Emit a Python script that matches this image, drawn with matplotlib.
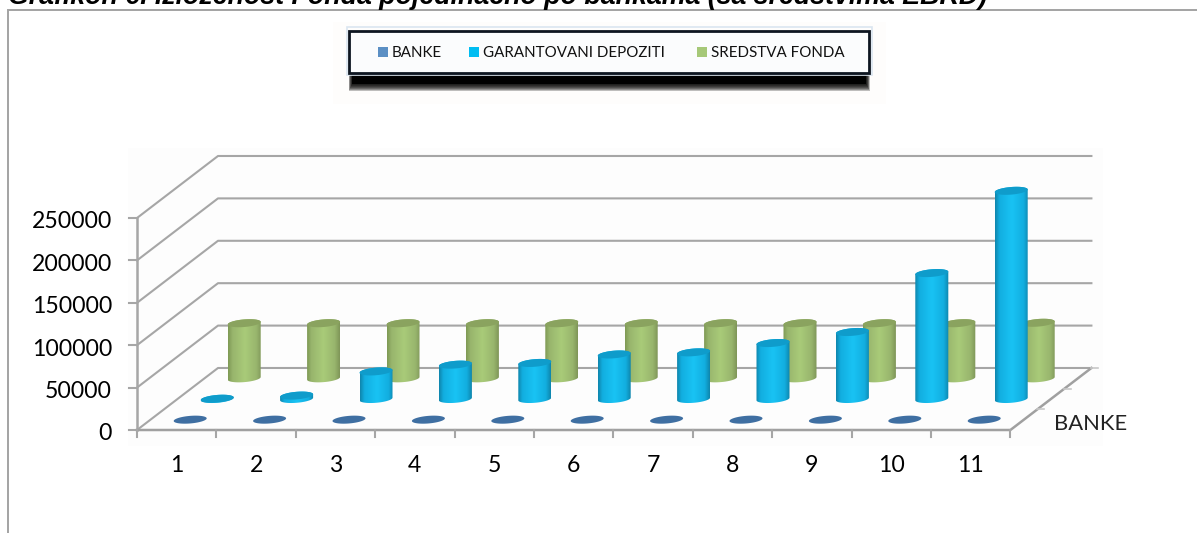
import numpy as np
import matplotlib
matplotlib.use("Agg")
import matplotlib.pyplot as plt
from matplotlib.colors import LinearSegmentedColormap
from matplotlib.patches import Polygon, Rectangle

categories = [1, 2, 3, 4, 5, 6, 7, 8, 9, 10, 11]
banke = [0, 0, 0, 0, 0, 0, 0, 0, 0, 0, 0]
garantovani = [300, 4000, 32500, 40500, 42500, 52500, 55000, 66000, 79000, 148500, 245500]
sredstva = [65000, 65000, 65000, 65000, 65000, 65000, 65000, 65000, 65000, 65000, 65500]
value_ticks = [0, 50000, 100000, 150000, 200000, 250000]
legend_labels = ["BANKE", "GARANTOVANI DEPOZITI", "SREDSTVA FONDA"]

W, H = 1197, 533
CAT_PX = 79.4
VAL_PX = 212 / 250000
DEPTH_DX = 27.0 / CAT_PX
DEPTH_DY = 20.67 / VAL_PX
FONT = "Lato"


def cmap_for(edge_l, mid, bright, edge_r):
    return LinearSegmentedColormap.from_list(
        "c", [(0, edge_l), (0.13, mid), (0.5, bright), (0.85, mid), (1, edge_r)])


def ell_points(cx, cy, t):
    # slightly tilted ellipse, half axes in pixels turned into data units
    a, b, slope = 16.5, 3.8, 0.08
    px = a * np.cos(t)
    py = b * np.sin(t) + slope * a * np.cos(t)
    return cx + px / CAT_PX, cy + py / VAL_PX


def cylinder(ax, cat, value, depth, cmap, top_color, z):
    cx = cat + depth * DEPTH_DX
    y0 = depth * DEPTH_DY
    y1 = y0 + value
    if value > 0:
        x_low, y_low = ell_points(cx, y0, np.linspace(np.pi, 2 * np.pi, 40))
        x_up, y_up = ell_points(cx, y1, np.linspace(0, np.pi, 40))
        pts = np.column_stack([np.r_[x_low, x_up], np.r_[y_low, y_up]])
        body = Polygon(pts, closed=True, facecolor="none", edgecolor="none", transform=ax.transData)
        ax.add_patch(body)
        half = 16.5 / CAT_PX
        im = ax.imshow(np.linspace(0, 1, 64).reshape(1, -1), cmap=cmap, aspect="auto",
                       extent=[cx - half, cx + half, y0 - 12 / VAL_PX, y1 + 6 / VAL_PX],
                       zorder=z, interpolation="bilinear")
        im.set_clip_path(body)
    tx, ty = ell_points(cx, y1, np.linspace(0, 2 * np.pi, 80))
    ax.fill(tx, ty, color=top_color, zorder=z + 0.1, lw=0)


fig = plt.figure(figsize=(W / 100, H / 100), dpi=100)

# page furniture in pixel coordinates
bg = fig.add_axes([0, 0, 1, 1])
bg.set_xlim(0, W)
bg.set_ylim(H, 0)
bg.axis("off")
bg.add_patch(Rectangle((128, 148), 975, 298, color="#fdfdfd", lw=0))
bg.plot([8, 8, W], [H, 9.5, 9.5], color="#a3a3a3", lw=1.4, solid_joinstyle="miter")
bg.text(8, 4, "Grafikon 6. Izloženost Fonda pojedinačno po bankama (sa sredstvima EBRD)",
        family="Liberation Sans", weight="bold", style="italic", fontsize=19.3,
        va="baseline", ha="left", color="black")

# legend box with its heavy shadow
bg.add_patch(Rectangle((333, 22), 553, 82, color="#fefdfc", lw=0))
for grow in range(7, 0, -1):
    bg.add_patch(Rectangle((352 - grow * 0.5, 73), 514 + grow, 11 + grow,
                           color="black", alpha=0.25, lw=0))
bg.add_patch(Rectangle((352, 73), 514, 11, color="black", lw=0))
bg.add_patch(Rectangle((346.5, 27), 525, 48, fill=False, edgecolor="#dbe6f0", lw=1.2, zorder=2))
bg.add_patch(Rectangle((349, 30.5), 520, 42, facecolor="#fbfcfd", edgecolor="#0d1520", lw=2, zorder=3))
swatch_x = [378, 469, 697]
text_x = [392, 483, 711]
swatch_c = ["#5b8fc4", "#00bdf2", "#a6c878"]
for sx, tx, col, lab in zip(swatch_x, text_x, swatch_c, legend_labels):
    bg.add_patch(Rectangle((sx, 47), 10, 10, color=col, lw=0, zorder=4))
    bg.text(tx, 53, lab, family=FONT, fontsize=10.9, va="center", ha="left", color="#111111", zorder=4)

# chart axes, same area as the figure, in category / value units
ax = fig.add_axes([0, 0, 1, 1])
ax.patch.set_alpha(0)
ax.axis("off")
grid_c = "#a6a6a6"
back_x = [0.5 + 3 * DEPTH_DX, 11.5 + 3 * DEPTH_DX]
for v in value_ticks:
    ax.plot([0.5, 0.5 + 3 * DEPTH_DX, back_x[1]],
            [v, v + 3 * DEPTH_DY, v + 3 * DEPTH_DY], color=grid_c, lw=1.5, zorder=1)
    ax.plot([0.5 - 8 / CAT_PX, 0.5], [v, v], color=grid_c, lw=1.5, zorder=1)
    ax.text(0.5 - 25 / CAT_PX, v - 4 / VAL_PX, str(v), family=FONT, fontsize=16.6, ha="right",
            va="center", color="black")

ax.plot([0.5, 0.5], [0, value_ticks[-1]], color=grid_c, lw=1.8, zorder=1)
ax.plot([0.5, 11.5, 11.5 + 3 * DEPTH_DX], [0, 0, 3 * DEPTH_DY], color="#a0a0a0", lw=1.8, zorder=1)
for c in categories:
    ax.plot([c - 0.5, c - 0.5], [0, -7 / VAL_PX], color=grid_c, lw=1.5, zorder=1)
    ax.text(c, -36 / VAL_PX, str(c), family=FONT, fontsize=16.6, ha="center", va="center", color="black")
ax.plot([11.5, 11.5], [0, -7 / VAL_PX], color=grid_c, lw=1.5, zorder=1)
for d in [1, 2, 3]:
    ax.plot([11.5 + d * DEPTH_DX, 11.5 + d * DEPTH_DX + 7 / CAT_PX],
            [d * DEPTH_DY, d * DEPTH_DY], color="#c8c8c8", lw=1.2, zorder=1)
ax.text(11.5 + 44 / CAT_PX, 6 / VAL_PX, "BANKE", family=FONT, fontsize=15.8, ha="left", va="center", color="#222222")

green_map = cmap_for("#7f9a55", "#98b56d", "#a9cb79", "#7f9658")
blue_map = cmap_for("#0f86ad", "#12aee0", "#19c3f4", "#0e86ad")
for c, val in zip(categories, sredstva):
    cylinder(ax, c, val, 2.5, green_map, "#8aa35f", 2)
for c, val in zip(categories, garantovani):
    cylinder(ax, c, val, 1.5, blue_map, "#0f9ccb", 3)
for c, val in zip(categories, banke):
    cylinder(ax, c, val, 0.5, blue_map, "#3f6fa2", 4)

x_left = 0.5 - 137 / CAT_PX
ax.set_xlim(x_left, x_left + W / CAT_PX)
ax.set_ylim(-(H - 430) / VAL_PX, 430 / VAL_PX)

fig.savefig("out.png", dpi=100)
